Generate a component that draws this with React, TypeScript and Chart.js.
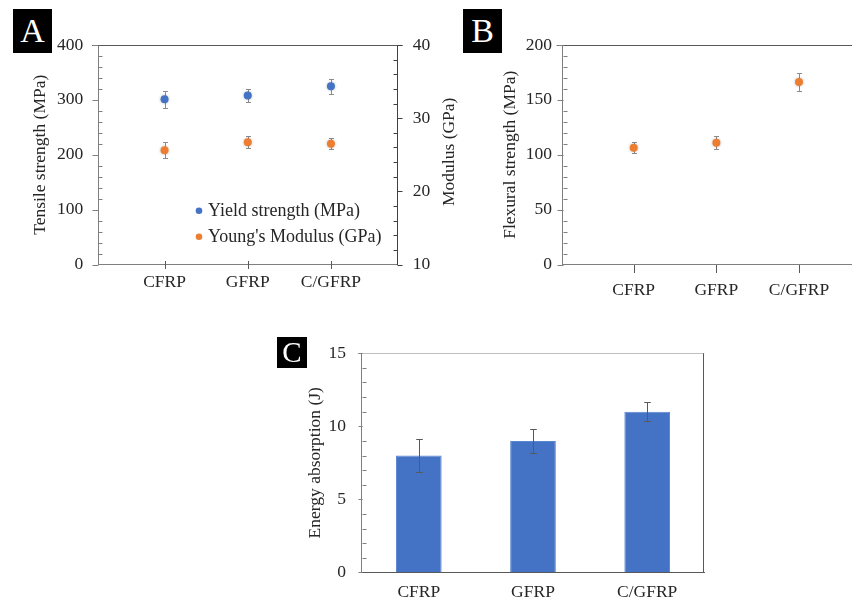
import React, { useEffect, useRef } from 'react';
import { Chart, registerables } from 'chart.js';
Chart.register(...registerables);

// ---------- data ----------
const categories = ['CFRP', 'GFRP', 'C/GFRP'];
const categoryPositions = [1, 2, 3];

const yieldStrength = [301, 308, 325];
const yieldErr = [15, 11.5, 13.5];
const youngsModulus = [25.6, 26.7, 26.5];
const youngsErr = [1.1, 0.8, 0.75];

const flexuralStrength = [106.4, 110.9, 166.4];
const flexuralErr = [5.2, 5.9, 7.9];

const energyAbsorption = [8, 9, 11];
const energyErr = [1.1, 0.82, 0.66];

const seriesLabels = ['Yield strength (MPa)', "Young's Modulus (GPa)"];

// ---------- styles ----------
const FONT = "'Liberation Serif', 'Times New Roman', serif";
const TEXT = '#262626';
const BLUE = '#4472C4';
const ORANGE = '#ED7D31';
Chart.defaults.font.family = FONT;
Chart.defaults.color = TEXT;

function drawYTicks(chart: any, scaleId: string, side: 'left' | 'right', major: number, minor: number, outLen: number, inLen: number, color: string) {
  const scale = chart.scales[scaleId];
  const ca = chart.chartArea;
  const ctx = chart.ctx;
  const x0 = side === 'left' ? Math.round(ca.left) + 0.5 : Math.round(ca.right) - 0.5;
  const outDir = side === 'left' ? -1 : 1;
  ctx.save();
  ctx.strokeStyle = color;
  ctx.lineWidth = 1;
  ctx.beginPath();
  const n = Math.round((scale.max - scale.min) / minor);
  for (let i = 0; i <= n; i++) {
    const v = scale.min + i * minor;
    const y = Math.round(scale.getPixelForValue(v)) + 0.5;
    const isMajor = Math.abs(v / major - Math.round(v / major)) < 1e-6;
    ctx.moveTo(x0, y);
    if (isMajor) ctx.lineTo(x0 + outDir * outLen, y);
    else ctx.lineTo(x0 - outDir * inLen, y);
  }
  ctx.stroke();
  ctx.restore();
}

function drawTopLine(chart: any, color: string, extendLeft: number, extendRight: number) {
  const ca = chart.chartArea;
  const ctx = chart.ctx;
  const y = Math.round(ca.top) + 0.5;
  ctx.save();
  ctx.strokeStyle = color;
  ctx.lineWidth = 1;
  ctx.beginPath();
  ctx.moveTo(ca.left - extendLeft, y);
  ctx.lineTo(ca.right + extendRight, y);
  ctx.stroke();
  ctx.restore();
}

function drawXTicks(chart: any, up: number, down: number, color: string) {
  const ca = chart.chartArea;
  const ctx = chart.ctx;
  const xs = chart.scales.x;
  const y = Math.round(ca.bottom);
  ctx.save();
  ctx.strokeStyle = color;
  ctx.lineWidth = 1;
  ctx.beginPath();
  categoryPositions.forEach((p) => {
    const x = Math.round(xs.getPixelForValue(p)) + 0.5;
    ctx.moveTo(x, y - up);
    ctx.lineTo(x, y + down);
  });
  ctx.stroke();
  ctx.restore();
}

function drawErrorBars(chart: any, dsIndex: number, values: number[], errors: number[], color: string, capHalf: number) {
  const meta = chart.getDatasetMeta(dsIndex);
  const yScale = chart.scales[meta.yAxisID];
  const ctx = chart.ctx;
  ctx.save();
  ctx.strokeStyle = color;
  ctx.lineWidth = 1;
  ctx.beginPath();
  meta.data.forEach((el: any, i: number) => {
    const x = Math.round(el.x) + 0.5;
    const yTop = Math.round(yScale.getPixelForValue(values[i] + errors[i])) + 0.5;
    const yBot = Math.round(yScale.getPixelForValue(values[i] - errors[i])) + 0.5;
    ctx.moveTo(x, yTop);
    ctx.lineTo(x, yBot);
    ctx.moveTo(x - capHalf, yTop);
    ctx.lineTo(x + capHalf, yTop);
    ctx.moveTo(x - capHalf, yBot);
    ctx.lineTo(x + capHalf, yBot);
  });
  ctx.stroke();
  ctx.restore();
}

const tickFont = { family: FONT, size: 17.5 };
const titleFont = { family: FONT, size: 17.5 };

function categoryXScale(min: number, max: number, pad: number, height: number) {
  return {
    type: 'linear',
    min,
    max,
    afterBuildTicks: (s: any) => {
      s.ticks = categoryPositions.map((v) => ({ value: v }));
    },
    afterFit: (s: any) => {
      s.height = height;
    },
    ticks: {
      font: tickFont,
      color: TEXT,
      padding: pad,
      autoSkip: false,
      maxRotation: 0,
      callback: (v: number) => categories[categoryPositions.indexOf(v)],
    },
    grid: { display: false, drawTicks: false },
    border: { display: true, color: '#7f7f7f' },
  };
}

const pointShadow = {
  id: 'pointShadow',
  beforeDatasetsDraw(chart: any) {
    chart.ctx.save();
    chart.ctx.shadowColor = 'rgba(0,0,0,0.25)';
    chart.ctx.shadowBlur = 3;
  },
  afterDatasetsDraw(chart: any) {
    chart.ctx.restore();
  },
};

function configA() {
  return {
    type: 'scatter',
    data: {
      datasets: [
        {
          label: seriesLabels[0],
          data: categoryPositions.map((x, i) => ({ x, y: yieldStrength[i] })),
          yAxisID: 'y',
          backgroundColor: BLUE,
          borderColor: BLUE,
          pointRadius: 4,
          borderWidth: 0,
        },
        {
          label: seriesLabels[1],
          data: categoryPositions.map((x, i) => ({ x, y: youngsModulus[i] })),
          yAxisID: 'y1',
          backgroundColor: ORANGE,
          borderColor: ORANGE,
          pointRadius: 4,
          borderWidth: 0,
        },
      ],
    },
    options: {
      responsive: false,
      animation: false,
      layout: { padding: { top: 45, left: 0, right: 0, bottom: 0 } },
      plugins: { legend: { display: false }, tooltip: { enabled: false } },
      scales: {
        x: categoryXScale(0.2, 3.8, 7.5, 35.5),
        y: {
          position: 'left',
          min: 0,
          max: 400,
          afterFit: (s: any) => { s.width = 98; },
          ticks: { stepSize: 100, font: tickFont, color: TEXT, padding: 14.7 },
          grid: { display: false, drawTicks: false },
          border: { display: true, color: '#7f7f7f' },
          title: { display: true, text: 'Tensile strength (MPa)', font: titleFont, color: TEXT, padding: { top: 30, bottom: 0 } },
        },
        y1: {
          position: 'right',
          min: 10,
          max: 40,
          afterFit: (s: any) => { s.width = 64.5; },
          ticks: { stepSize: 10, font: tickFont, color: TEXT, padding: 15.2 },
          grid: { display: false, drawTicks: false },
          border: { display: true, color: '#404040' },
        },
      },
    },
    plugins: [
      {
        id: 'decorA',
        beforeDatasetsDraw(chart: any) {
          drawTopLine(chart, '#595959', 6, 5);
          drawYTicks(chart, 'y', 'left', 100, 20, 6, 4, '#7f7f7f');
          drawYTicks(chart, 'y1', 'right', 10, 2, 5, 4, '#404040');
          drawXTicks(chart, 4, 4, '#595959');
          drawErrorBars(chart, 0, yieldStrength, yieldErr, '#8c8c8c', 2.5);
          drawErrorBars(chart, 1, youngsModulus, youngsErr, '#8c8c8c', 2.5);
        },
        afterDraw(chart: any) {
          const ca = chart.chartArea;
          const ctx = chart.ctx;
          ctx.save();
          // legend inside plot area
          const colors = [BLUE, ORANGE];
          ctx.font = `18px ${FONT}`;
          ctx.textBaseline = 'middle';
          ctx.textAlign = 'left';
          chart.data.datasets.forEach((ds: any, i: number) => {
            const cy = ca.top + 165.7 + i * 26;
            ctx.fillStyle = colors[i];
            ctx.beginPath();
            ctx.arc(ca.left + 101, cy, 3.3, 0, Math.PI * 2);
            ctx.fill();
            ctx.fillStyle = TEXT;
            ctx.fillText(ds.label, ca.left + 110, cy + 1);
          });
          // right axis title, reading bottom-to-top
          ctx.font = `17.5px ${FONT}`;
          ctx.textAlign = 'center';
          ctx.translate(ca.right + 51.5, (ca.top + ca.bottom) / 2 - 3);
          ctx.rotate(-Math.PI / 2);
          ctx.fillText('Modulus (GPa)', 0, 0);
          ctx.restore();
        },
      },
      pointShadow,
    ],
  };
}

function configB() {
  return {
    type: 'scatter',
    data: {
      datasets: [
        {
          label: 'Flexural strength (MPa)',
          data: categoryPositions.map((x, i) => ({ x, y: flexuralStrength[i] })),
          yAxisID: 'y',
          backgroundColor: ORANGE,
          borderColor: ORANGE,
          pointRadius: 4,
          borderWidth: 0,
        },
      ],
    },
    options: {
      responsive: false,
      animation: false,
      layout: { padding: { top: 45, left: 0, right: 0, bottom: 0 } },
      plugins: { legend: { display: false }, tooltip: { enabled: false } },
      scales: {
        x: categoryXScale(0.141, 3.641, 15.5, 35.5),
        y: {
          position: 'left',
          min: 0,
          max: 200,
          afterFit: (s: any) => { s.width = 100.7; },
          ticks: { stepSize: 50, font: tickFont, color: TEXT, padding: 10.7 },
          grid: { display: false, drawTicks: false },
          border: { display: true, color: '#7f7f7f' },
          title: { display: true, text: 'Flexural strength (MPa)', font: titleFont, color: TEXT, padding: { top: 37.8, bottom: 0 } },
        },
      },
    },
    plugins: [
      {
        id: 'decorB',
        beforeDatasetsDraw(chart: any) {
          drawTopLine(chart, '#595959', 6, 0);
          drawYTicks(chart, 'y', 'left', 50, 10, 6, 4, '#7f7f7f');
          drawXTicks(chart, 0, 8, '#595959');
          drawErrorBars(chart, 0, flexuralStrength, flexuralErr, '#8c8c8c', 2.5);
        },
      },
      pointShadow,
    ],
  };
}

function configC() {
  return {
    type: 'bar',
    data: {
      labels: categories,
      datasets: [
        {
          label: 'Energy absorption (J)',
          data: energyAbsorption,
          backgroundColor: BLUE,
          borderColor: '#5b86d0',
          borderWidth: 1,
          barPercentage: 0.4,
          categoryPercentage: 1,
        },
      ],
    },
    options: {
      responsive: false,
      animation: false,
      layout: { padding: { top: 28.3, left: 0, right: 15.7, bottom: 0 } },
      plugins: { legend: { display: false }, tooltip: { enabled: false } },
      scales: {
        x: {
          afterFit: (s: any) => { s.height = 31.7; },
          ticks: { font: tickFont, color: TEXT, padding: 9.5, maxRotation: 0 },
          grid: { display: false, drawTicks: false },
          border: { display: true, color: '#595959' },
        },
        y: {
          position: 'left',
          min: 0,
          max: 15,
          afterFit: (s: any) => { s.width = 91.7; },
          ticks: { stepSize: 5, font: tickFont, color: TEXT, padding: 15.7 },
          grid: { display: false, drawTicks: false },
          border: { display: true, color: '#7f7f7f' },
          title: { display: true, text: 'Energy absorption (J)', font: titleFont, color: TEXT, padding: { top: 34.8, bottom: 0 } },
        },
      },
    },
    plugins: [
      {
        id: 'decorC',
        beforeDatasetsDraw(chart: any) {
          const ca = chart.chartArea;
          const ctx = chart.ctx;
          drawTopLine(chart, '#bfbfbf', 4, 0);
          ctx.save();
          ctx.strokeStyle = '#595959';
          ctx.beginPath();
          const x = Math.round(ca.right) - 0.5;
          ctx.moveTo(x, ca.top);
          ctx.lineTo(x, ca.bottom);
          ctx.stroke();
          ctx.restore();
          drawYTicks(chart, 'y', 'left', 5, 1, 4, 4, '#7f7f7f');
        },
        afterDatasetsDraw(chart: any) {
          drawErrorBars(chart, 0, energyAbsorption, energyErr, '#595959', 3.3);
        },
      },
    ],
  };
}

function ChartCanvas({ left, top, width, height, makeConfig }: any) {
  const ref = useRef<HTMLCanvasElement | null>(null);
  useEffect(() => {
    const chart = new Chart(ref.current as HTMLCanvasElement, makeConfig() as any);
    return () => chart.destroy();
  }, []);
  return (
    <canvas
      ref={ref}
      width={width}
      height={height}
      style={{ position: 'absolute', left, top, width, height }}
    />
  );
}

function PanelTag({ letter, left, top, width, height, size }: any) {
  return (
    <div
      style={{
        position: 'absolute',
        left,
        top,
        width,
        height,
        background: '#000',
        color: '#fff',
        fontFamily: FONT,
        fontSize: size,
        display: 'flex',
        alignItems: 'center',
        justifyContent: 'center',
        lineHeight: 1,
      }}
    >
      {letter}
    </div>
  );
}

export default function App() {
  return (
    <div style={{ position: 'fixed', left: 0, top: 0, width: 852, height: 604, background: '#fff', overflow: 'hidden' }}>
      <ChartCanvas left={0} top={0} width={462} height={300} makeConfig={configA} />
      <ChartCanvas left={462} top={0} width={394} height={300} makeConfig={configB} />
      <ChartCanvas left={270} top={325} width={450} height={279} makeConfig={configC} />
      <PanelTag letter="A" left={13} top={9} width={39} height={44} size={34} />
      <PanelTag letter="B" left={463} top={9} width={39} height={44} size={34} />
      <PanelTag letter="C" left={277} top={337} width={30} height={31} size={29} />
    </div>
  );
}
